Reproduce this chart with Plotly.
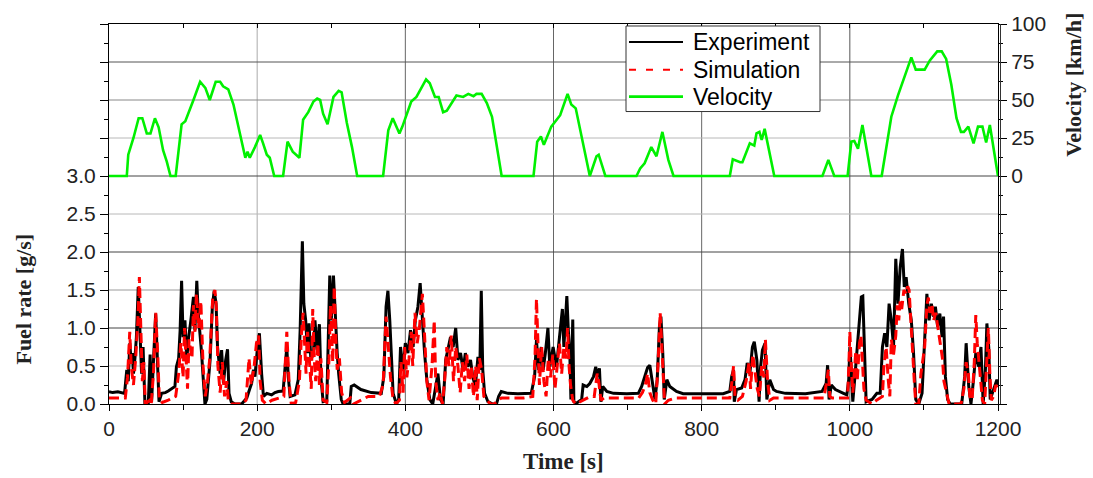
import plotly.graph_objects as go

# ---------------- data ----------------
time_exp = [0, 5, 12, 21, 24, 26, 28, 30, 31.5, 33, 35, 37, 39.5, 42, 44, 46, 48.5, 53, 55.5, 57.5, 60, 63, 65.5, 67.5, 71, 76, 80, 85, 89, 91, 94, 96, 98, 100, 102.5, 105, 107, 110.5, 114, 116, 118.5, 120.5, 123, 125, 127, 129.5, 132, 134, 136.5, 139.5, 142, 144.5, 146.5, 150, 152, 154.5, 157.5, 160, 162, 165, 170, 179, 186, 190, 192.5, 195, 197, 200.5, 203, 206, 208.5, 213, 219.5, 224, 228.5, 235, 237.5, 240, 242, 244.5, 251, 255.5, 258, 261, 263, 265.5, 268, 270, 272.5, 276, 278, 281, 284, 286, 289, 294, 298, 300, 303, 305.5, 308, 310, 313.5, 316, 325, 327, 331, 340, 354, 367.5, 371, 374, 376.5, 379, 381, 383.5, 388, 391, 393.5, 397, 400, 403.5, 407, 410.5, 413.5, 417, 420, 422.5, 426, 429, 433, 437, 441, 444, 447.5, 451, 454.5, 457.5, 461, 464.5, 468, 471, 474.5, 478, 481, 484.5, 488, 491, 494.5, 498, 500.5, 502.5, 504.5, 507, 511.5, 518, 523, 526, 529.5, 538.5, 552, 570, 574.5, 577, 580, 583.5, 586, 589, 592.5, 595, 599.5, 604, 609, 612, 614, 618, 620, 622, 623.5, 626, 627.5, 631, 638, 640, 645, 649, 654, 657, 659, 662, 664, 666.5, 672, 681, 699, 714.5, 719, 723.5, 727, 730, 734, 737, 740, 743, 745, 747.5, 749.5, 753, 757, 766, 775, 793, 811, 829, 838, 840.5, 843, 844, 847, 854, 858.5, 861.5, 865, 868.5, 871, 874.5, 877.5, 879.5, 882, 885.5, 888, 892, 897, 901, 913, 940, 962.5, 968, 970, 972, 975, 980.5, 991.5, 996, 998.5, 1000, 1002, 1004, 1006.5, 1009.5, 1013, 1015.5, 1017.5, 1020, 1022, 1030, 1036.5, 1041, 1044, 1047, 1050, 1053, 1056, 1059, 1062, 1065, 1068, 1071, 1073.5, 1076, 1079.5, 1083, 1086, 1089, 1093, 1097.5, 1101, 1104, 1107, 1110, 1113, 1115.5, 1118.5, 1121.5, 1124.5, 1126.5, 1129, 1132, 1135.5, 1151, 1155, 1157, 1160.5, 1163.5, 1167, 1170, 1174, 1177, 1180, 1183, 1185, 1187.5, 1189.5, 1192, 1195.5, 1198.5, 1200]
fuel_exp = [0.16, 0.15, 0.16, 0.14, 0.45, 0.3, 0.8, 0.55, 0.67, 0.4, 0.6, 0.88, 1.54, 0.97, 0.4, 0.75, 0.0, 0.0, 0.65, 0.03, 0.67, 1.19, 0.54, 0.03, 0.14, 0.15, 0.17, 0.2, 0.23, 0.49, 0.6, 0.97, 1.62, 0.88, 1.1, 0.58, 0.84, 1.1, 1.41, 0.97, 1.62, 1.19, 0.93, 0.67, 0.36, 0.0, 0.06, 0.27, 0.58, 1.28, 1.49, 1.32, 0.75, 0.4, 0.71, 0.27, 0.58, 0.72, 0.14, 0.03, 0.0, 0.0, 0.08, 0.2, 0.27, 0.45, 0.36, 0.75, 0.93, 0.4, 0.1, 0.14, 0.12, 0.15, 0.165, 0.17, 0.49, 0.75, 0.36, 0.1, 0.12, 0.32, 0.97, 2.14, 1.32, 1.1, 0.67, 1.06, 0.58, 0.67, 1.1, 0.71, 1.05, 0.36, 0.03, 0.04, 1.69, 1.1, 1.69, 1.1, 0.67, 0.4, 0.06, 0.0, 0.0, 0.23, 0.25, 0.19, 0.15, 0.14, 0.36, 1.28, 1.49, 1.1, 0.75, 0.14, 0.0, 0.06, 0.75, 0.45, 0.8, 0.67, 0.97, 0.75, 1.1, 1.28, 1.59, 1.19, 0.67, 0.32, 0.06, 0.0, 0.23, 0.4, 0.06, 0.0, 0.58, 0.71, 0.88, 0.75, 1.0, 0.58, 0.67, 0.45, 0.67, 0.49, 0.58, 0.36, 0.23, 0.62, 0.45, 1.49, 0.45, 0.14, 0.03, 0.0, 0.0, 0.1, 0.165, 0.14, 0.135, 0.14, 0.36, 0.84, 0.45, 0.75, 0.45, 0.67, 1.0, 0.49, 0.75, 0.49, 0.97, 1.25, 0.75, 1.42, 0.97, 0.67, 0.06, 1.11, 0.03, 0.01, 0.06, 0.25, 0.23, 0.27, 0.36, 0.49, 0.36, 0.47, 0.03, 0.23, 0.165, 0.14, 0.135, 0.14, 0.23, 0.36, 0.48, 0.51, 0.25, 0.06, 0.32, 1.02, 1.15, 0.67, 0.06, 0.32, 0.23, 0.165, 0.135, 0.135, 0.135, 0.135, 0.165, 0.36, 0.45, 0.03, 0.19, 0.21, 0.32, 0.54, 0.4, 0.75, 0.82, 0.58, 0.03, 0.49, 0.71, 0.8, 0.06, 0.32, 0.19, 0.165, 0.14, 0.135, 0.165, 0.27, 0.51, 0.06, 0.25, 0.19, 0.14, 0.12, 0.32, 0.75, 0.45, 0.03, 0.32, 0.67, 1.02, 1.41, 1.42, 0.54, 0.03, 0.06, 0.14, 0.14, 0.75, 0.93, 0.75, 1.32, 1.1, 0.75, 1.91, 1.32, 1.8, 2.04, 1.54, 1.67, 1.32, 1.1, 0.67, 0.06, 0.0, 0.14, 0.84, 1.45, 1.1, 1.32, 1.15, 1.28, 1.02, 1.19, 0.88, 1.15, 0.36, 0.06, 0.0, 0.0, 0.36, 0.8, 0.23, 0.0, 0.32, 0.67, 0.49, 0.75, 0.0, 0.45, 1.06, 0.75, 0.06, 0.14, 0.23, 0.32, 0.25]

time_sim = [0, 22, 25, 28, 30, 33, 36, 39, 41, 43, 45, 47, 49, 55, 57, 60, 63, 66, 68, 72, 80, 90, 94, 97, 100, 102, 104, 106, 108, 112, 114, 116, 118, 121, 124, 127, 130, 133, 136, 140, 143, 145, 147, 150, 153, 156, 159, 161, 165, 180, 185, 189, 192, 196, 199, 202, 204, 207, 212, 220, 230, 236, 238, 240, 243, 246, 252, 257, 260, 262, 264, 266, 268, 271, 273, 275, 277, 279, 282, 284, 286, 289, 294, 297, 299, 302, 304, 306, 308, 311, 314, 318, 322, 326, 330, 340, 350, 365, 370, 374, 377, 380, 383, 387, 392, 394, 397, 399, 402, 405, 408, 410, 413, 416, 419, 423, 426, 429, 432, 436, 439, 441, 444, 447, 450, 453, 456, 459, 462, 465, 468, 471, 474, 477, 480, 483, 486, 489, 492, 495, 497, 500, 503, 506, 510, 515, 520, 525, 530, 545, 560, 572, 575, 577, 579, 581, 584, 587, 590, 593, 596, 599, 602, 605, 608, 611, 614, 617, 619, 621, 623, 626, 630, 640, 650, 655, 659, 661, 664, 668, 680, 700, 715, 720, 724, 727, 730, 734, 738, 741, 744, 746, 748, 750, 755, 765, 780, 800, 820, 838, 841, 843, 845, 849, 855, 860, 864, 866, 869, 872, 875, 878, 881, 884, 886, 889, 892, 897, 910, 930, 950, 965, 968, 971, 973, 976, 990, 997, 999, 1000, 1002, 1004, 1006, 1008, 1010, 1013, 1015, 1017, 1019, 1022, 1030, 1036, 1040, 1044, 1046, 1049, 1052, 1054, 1056, 1059, 1062, 1064, 1066, 1068, 1070, 1073, 1076, 1078, 1080, 1082, 1084, 1087, 1089, 1093, 1096, 1099, 1101, 1104, 1106, 1108, 1111, 1113, 1116, 1119, 1122, 1125, 1127, 1130, 1134, 1150, 1154, 1157, 1160, 1162, 1165, 1168, 1170, 1172, 1175, 1177, 1179, 1182, 1184, 1187, 1189, 1191, 1194, 1197, 1200]
fuel_sim = [0.08, 0.08, 0.35, 0.95, 0.5, 0.25, 0.6, 1.1, 1.67, 0.9, 0.3, 0.55, 0.0, 0.05, 0.0, 0.4, 1.2, 0.6, 0.05, 0.02, 0.05, 0.1, 0.4, 0.8, 0.35, 1.0, 0.5, 0.2, 0.85, 0.6, 1.3, 0.95, 1.45, 1.0, 1.35, 0.5, 0.1, 0.3, 0.6, 1.4, 1.5, 1.25, 0.5, 0.15, 0.55, 0.1, 0.3, 0.05, 0.0, 0.0, 0.05, 0.6, 0.25, 0.5, 0.8, 0.9, 0.3, 0.05, 0.0, 0.05, 0.08, 0.1, 0.55, 0.95, 0.3, 0.0, 0.02, 0.3, 0.95, 1.2, 0.8, 0.4, 0.95, 0.5, 0.2, 1.25, 0.6, 0.3, 0.8, 0.25, 0.6, 0.05, 0.02, 0.6, 1.3, 0.55, 1.55, 0.9, 0.45, 0.6, 0.15, 0.02, 0.05, 0.08, 0.0, 0.05, 0.1, 0.1, 0.25, 1.15, 0.7, 0.35, 0.1, 0.0, 0.05, 0.55, 0.15, 0.75, 0.35, 0.6, 0.95, 0.5, 1.2, 0.8, 1.0, 1.45, 0.9, 0.3, 0.05, 0.5, 1.1, 0.3, 0.05, 0.15, 0.0, 0.3, 0.75, 0.5, 0.9, 0.3, 0.75, 0.5, 0.15, 0.55, 0.3, 0.65, 0.2, 0.5, 0.1, 0.5, 0.05, 0.6, 0.45, 0.1, 0.05, 0.0, 0.0, 0.05, 0.08, 0.08, 0.08, 0.1, 0.6, 1.38, 0.7, 0.25, 0.75, 0.3, 0.1, 0.6, 0.35, 0.65, 0.2, 0.55, 0.8, 0.4, 0.75, 0.6, 1.0, 0.5, 0.25, 0.05, 0.0, 0.05, 0.1, 0.1, 0.4, 0.3, 0.05, 0.08, 0.08, 0.08, 0.08, 0.15, 0.25, 0.4, 0.15, 0.05, 0.0, 0.5, 1.2, 0.8, 0.3, 0.0, 0.05, 0.08, 0.08, 0.08, 0.08, 0.08, 0.3, 0.5, 0.1, 0.05, 0.1, 0.3, 0.55, 0.2, 0.65, 0.45, 0.2, 0.1, 0.5, 0.35, 0.85, 0.3, 0.05, 0.08, 0.08, 0.08, 0.08, 0.08, 0.25, 0.45, 0.1, 0.08, 0.08, 0.08, 0.6, 0.95, 0.5, 0.15, 0.4, 0.7, 0.3, 0.8, 0.9, 0.55, 0.2, 0.05, 0.0, 0.05, 0.08, 0.1, 0.5, 0.75, 0.3, 0.1, 0.85, 0.65, 0.9, 1.3, 1.1, 1.35, 1.25, 1.5, 1.45, 1.55, 1.5, 1.1, 0.7, 0.3, 0.0, 0.0, 0.4, 0.6, 0.75, 1.3, 1.4, 1.2, 1.3, 1.1, 1.2, 1.0, 0.8, 0.6, 0.3, 0.15, 0.0, 0.0, 0.2, 0.55, 0.4, 0.1, 0.05, 0.55, 1.17, 0.8, 0.5, 0.35, 0.05, 0.0, 0.5, 1.0, 0.4, 0.05, 0.1, 0.25, 0.2]

time_vel = [0, 24, 26, 33, 40, 45, 51, 56, 62, 67, 73, 78, 83, 90, 98, 103, 114, 123, 130, 136, 144, 150, 154, 161, 168, 177, 184, 187, 190, 197, 204, 208, 213, 217, 223, 235, 241, 248, 257, 262, 269, 276, 281, 285, 289, 295, 303, 310, 314, 321, 328, 335, 370, 377, 383, 392, 396, 408, 415, 428, 433, 440, 445, 451, 456, 469, 478, 485, 492, 496, 503, 510, 517, 530, 573, 578, 583, 587, 597, 609, 619, 624, 630, 649, 658, 661, 670, 712, 717, 723, 732, 739, 747, 755, 762, 838, 842, 852, 855, 865, 871, 874, 878, 881, 885, 898, 963, 971, 979, 997, 1002, 1006, 1011, 1017, 1029, 1043, 1050, 1056, 1065, 1074, 1083, 1089, 1101, 1108, 1118, 1124, 1130, 1137, 1144, 1150, 1154, 1160, 1164, 1167, 1173, 1179, 1184, 1189, 1200]
velocity = [0, 0, 14, 25, 38, 38, 28, 28, 38, 32, 17, 9.5, 0, 0, 34, 36, 50, 62, 58, 50, 62, 62, 59, 57, 47, 27, 12, 16, 12, 19, 27, 21.5, 14, 12, 0, 0, 22.6, 16, 12, 37, 42, 49, 51, 50, 41, 34, 52, 56, 55, 35, 19, 0, 0, 30, 38, 28, 32.5, 49, 52, 63.5, 61, 52, 52, 42, 43, 53, 52, 54, 52.5, 54, 54, 48, 39, 0, 0, 22.6, 26, 20.5, 32.5, 40, 54, 47, 44.5, 0, 13, 14, 0, 0, 5, 8.4, 19, 13, 29, 10.6, 0, 0, 11, 9, 9, 21.5, 20, 28, 29, 23.7, 31, 0, 0, 10.6, 0, 0, 22.6, 23, 18, 33.6, 0, 0, 22.6, 39, 53, 66, 78, 70, 70, 76, 82, 82, 77, 60, 38, 29, 29, 32.5, 27, 21.5, 32.5, 32.5, 22, 33.6, 0]

x_ticks = [0, 200, 400, 600, 800, 1000, 1200]
fuel_ticks = [0, 0.5, 1.0, 1.5, 2.0, 2.5, 3.0, 3.5, 4.0, 4.5, 5.0]
fuel_labels = ["0.0", "0.5", "1.0", "1.5", "2.0", "2.5", "3.0", "", "", "", ""]
vel_ticks = [-150, -125, -100, -75, -50, -25, 0, 25, 50, 75, 100]
vel_labels = ["", "", "", "", "", "", "0", "25", "50", "75", "100"]
legend_names = ["Experiment", "Simulation", "Velocity"]

# ---------------- styling ----------------
W, H = 1093, 478
L, R, T, B = 109, 998, 22, 404
SANS = "Liberation Sans, Arial, sans-serif"
SERIF = "Liberation Serif, Times New Roman, serif"


def px(xp):
    return (xp - L) / (R - L)


def py(yp):
    return (B - yp) / (B - T)


fig = go.Figure()
fig.add_trace(go.Scatter(x=time_exp, y=fuel_exp, mode="lines", name=legend_names[0],
                         line=dict(color="black", width=3), showlegend=False))
fig.add_trace(go.Scatter(x=time_sim, y=fuel_sim, mode="lines", name=legend_names[1],
                         line=dict(color="#ff0000", width=3, dash="10px,5px"), showlegend=False))
fig.add_trace(go.Scatter(x=time_vel, y=velocity, mode="lines", name=legend_names[2],
                         xaxis="x2", yaxis="y2",
                         line=dict(color="#00f000", width=2.6), showlegend=False))

shapes = []
# grid lines
grid_h = [(0.5, "#b8b8b8"), (1.0, "#444444"), (1.5, "#9a9a9a"), (2.0, "#444444"),
          (2.5, "#b8b8b8"), (3.0, "#444444"), (3.5, "#b8b8b8"), (4.0, "#888888"), (4.5, "#555555")]
for v, c in grid_h:
    shapes.append(dict(type="line", xref="x", yref="y", x0=0, x1=1200, y0=v, y1=v,
                       line=dict(color=c, width=1), layer="below"))
grid_v = [(200, "#aaaaaa"), (400, "#666666"), (600, "#666666"), (800, "#666666"), (1000, "#555555")]
for v, c in grid_v:
    shapes.append(dict(type="line", xref="x", yref="paper", x0=v, x1=v, y0=0, y1=1,
                       line=dict(color=c, width=1), layer="below"))
# second thin line of the right frame
shapes.append(dict(type="line", xref="paper", yref="paper", x0=px(1000.5), x1=px(1000.5),
                   y0=0, y1=1, line=dict(color="#333", width=1), layer="above"))

# custom legend
shapes.append(dict(type="rect", xref="paper", yref="paper", x0=px(626), x1=px(820),
                   y0=py(110), y1=py(24), fillcolor="white", line=dict(color="#333", width=1),
                   layer="above"))
leg_y = [40, 68, 95]
leg_styles = [dict(color="black", width=2), dict(color="#ff0000", width=2, dash="7px,10px"),
              dict(color="#00f000", width=2.6)]
for yy, st in zip(leg_y, leg_styles):
    shapes.append(dict(type="line", xref="paper", yref="paper", x0=px(629), x1=px(683),
                       y0=py(yy), y1=py(yy), line=st, layer="above"))

annotations = []
for yy, name in zip(leg_y, legend_names):
    annotations.append(dict(text=name, xref="paper", yref="paper", x=px(691), y=py(yy),
                            xanchor="left", yanchor="middle", showarrow=False,
                            font=dict(family=SANS, size=23, color="black")))
annotations.append(dict(text="<b>Fuel rate [g/s]</b>", xref="paper", yref="paper",
                        x=px(24), y=py(299), textangle=-90, showarrow=False,
                        xanchor="center", yanchor="middle",
                        font=dict(family=SERIF, size=22, color="#222")))
annotations.append(dict(text="<b>Time [s]</b>", xref="paper", yref="paper",
                        x=px(563), y=py(462), showarrow=False,
                        xanchor="center", yanchor="middle",
                        font=dict(family=SERIF, size=23, color="#222")))
annotations.append(dict(text="<b>Velocity [km/h]</b>", xref="paper", yref="paper",
                        x=px(1074), y=py(83), textangle=-90, showarrow=False,
                        xanchor="center", yanchor="middle",
                        font=dict(family=SERIF, size=22, color="#222")))

tickfont = dict(family=SANS, size=21, color="#222")

fig.update_layout(
    width=W, height=H,
    margin=dict(l=L, r=W - R, t=T, b=H - B, pad=0),
    paper_bgcolor="white", plot_bgcolor="white",
    showlegend=False,
    shapes=shapes, annotations=annotations,
    xaxis=dict(range=[0, 1200], tickmode="array", tickvals=x_ticks,
               ticks="outside", ticklen=6, tickcolor="black", tickwidth=1,
               minor=dict(dtick=100, tick0=0, ticks="outside", ticklen=5, tickcolor="black"),
               showline=True, linecolor="black", linewidth=1, showgrid=False, zeroline=False,
               tickfont=tickfont),
    xaxis2=dict(range=[0, 1200], overlaying="x", side="top", anchor="y",
                tickmode="linear", tick0=0, dtick=100, ticks="inside", ticklen=4,
                tickcolor="black", showticklabels=False,
                showline=True, linecolor="black", linewidth=1, showgrid=False, zeroline=False),
    yaxis=dict(range=[0, 5], tickmode="array", tickvals=fuel_ticks, ticktext=fuel_labels,
               ticks="outside", ticklen=8, tickcolor="black",
               minor=dict(dtick=0.25, tick0=0, ticks="outside", ticklen=4, tickcolor="black"),
               showline=True, linecolor="black", linewidth=1, showgrid=False, zeroline=False,
               tickfont=tickfont),
    yaxis2=dict(range=[-150, 100], overlaying="y", side="right", anchor="x2",
                tickmode="array", tickvals=vel_ticks, ticktext=vel_labels,
                ticks="outside", ticklen=8, tickcolor="black",
                minor=dict(dtick=12.5, tick0=0, ticks="outside", ticklen=4, tickcolor="black"),
                showline=True, linecolor="black", linewidth=1, showgrid=False, zeroline=False,
                tickfont=tickfont),
)

fig.write_html("out.html")
